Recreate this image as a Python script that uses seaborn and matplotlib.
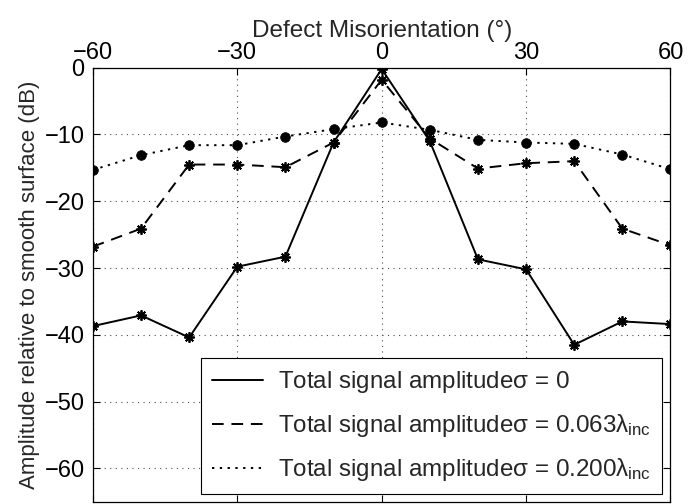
import matplotlib
matplotlib.use('Agg')
import seaborn as sns
import matplotlib.pyplot as plt
from matplotlib.lines import Line2D

# values
angles = [-60, -50, -40, -30, -20, -10, 0, 10, 20, 30, 40, 50, 60]
amp_smooth = [-38.7, -37.1, -40.4, -29.8, -28.3, -11.2, -0.2, -11.0, -28.7, -30.2, -41.5, -38.0, -38.4]
amp_063 = [-26.8, -24.1, -14.5, -14.5, -14.9, -11.2, -1.8, -10.6, -15.1, -14.3, -14.0, -24.1, -26.6]
amp_200 = [-15.3, -13.1, -11.6, -11.6, -10.3, -9.2, -8.2, -9.3, -10.8, -11.2, -11.4, -13.0, -15.2]

labels = [r"Total signal amplitude$\sigma$ = 0",
          r"Total signal amplitude$\sigma$ = 0.063$\lambda_{\rm inc}$",
          r"Total signal amplitude$\sigma$ = 0.200$\lambda_{\rm inc}$"]
xticks = [-60, -30, 0, 30, 60]
yticks = [0, -10, -20, -30, -40, -50, -60]

sns.set_style('white')
plt.rcParams['font.family'] = ['Liberation Sans', 'DejaVu Sans']
plt.rcParams['mathtext.fontset'] = 'custom'
plt.rcParams['mathtext.rm'] = 'Liberation Sans'
plt.rcParams['mathtext.it'] = 'Liberation Sans'
plt.rcParams['mathtext.sf'] = 'Liberation Sans'

fig = plt.figure(figsize=(6.99, 5.04), dpi=100)
ax = fig.add_axes([0.1329, 0.0046, 0.8263, 0.861])

dash_style = (0, (6, 4))
dot_style = (0, (1.2, 2.8))
star = (8, 2, 0)

sns.lineplot(x=angles, y=amp_smooth, ax=ax, color='black', lw=1.4, linestyle='-',
             marker=star, markersize=7.5, markeredgecolor='black', markeredgewidth=1.3)
sns.lineplot(x=angles, y=amp_063, ax=ax, color='black', lw=1.4, linestyle=dash_style,
             marker=star, markersize=7.5, markeredgecolor='black', markeredgewidth=1.3)
sns.lineplot(x=angles, y=amp_200, ax=ax, color='black', lw=1.4, linestyle=dot_style,
             marker='o', markersize=7, markeredgecolor='black', markeredgewidth=0.5)

ax.set_xlim(-60, 60)
ax.set_ylim(-65, 0)
ax.set_xticks(xticks)
ax.set_yticks(yticks)
ax.xaxis.tick_top()
ax.xaxis.set_label_position('top')
ax.tick_params(which='both', direction='in', length=5, width=0.8, colors='black',
               top=True, bottom=True, left=True, right=True,
               labeltop=True, labelbottom=False, labelsize=17)
ax.tick_params(axis='x', pad=3)
ax.tick_params(axis='y', pad=6)
ax.set_xlabel('Defect Misorientation (°)', fontsize=17.5, labelpad=3)
ax.set_ylabel('Amplitude relative to smooth surface (dB)', fontsize=16, labelpad=3)
ax.grid(True, linestyle=(0, (1, 4)), color='0.3', lw=0.8)
for sp in ax.spines.values():
    sp.set_color('black')
    sp.set_linewidth(0.9)

handles = [Line2D([], [], color='black', lw=1.4, linestyle='-'),
           Line2D([], [], color='black', lw=1.4, linestyle=dash_style),
           Line2D([], [], color='black', lw=1.4, linestyle=dot_style)]
leg = ax.legend(handles, labels, loc='lower right', bbox_to_anchor=(0.985, 0.018),
                fontsize=17.4, frameon=True, fancybox=False, framealpha=1,
                edgecolor='black', handlelength=2.1, handletextpad=0.65,
                borderaxespad=0, labelspacing=0.7, borderpad=0.45)
leg.get_frame().set_linewidth(0.8)

fig.savefig('out.png', dpi=100)
